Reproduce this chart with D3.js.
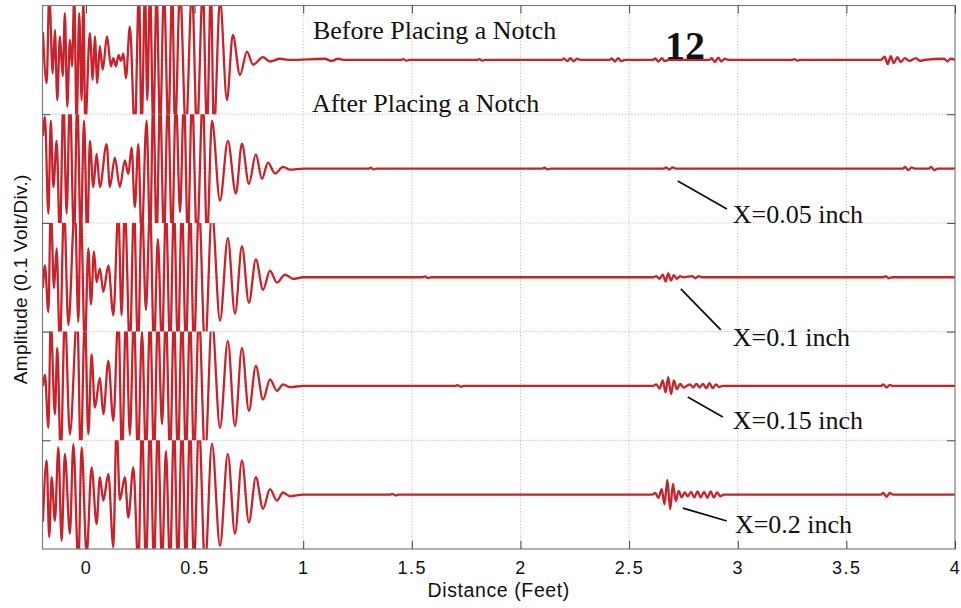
<!DOCTYPE html>
<html>
<head>
<meta charset="utf-8">
<script src="https://cdn.jsdelivr.net/npm/d3@7"></script>
<style>
  body { margin: 0; background: #fff; }
</style>
</head>
<body>
<div id="canvas"></div>
<script>
// x in feet, y in divisions around each trace's centre line
const xTicks = [0, 0.5, 1, 1.5, 2, 2.5, 3, 3.5, 4]
const yGrid = [-4, -3, -2, -1, 0, 1, 2, 3, 4]
const yTicks = [-3, -1, 1, 3]
const traceCenters = [4, 2, 0, -2, -4]

const trace1 = [
  [-0.198, 0.51], [-0.181, -0.43], [-0.169, 1.2], [-0.153, -0.25], [-0.143, 0.55], [-0.132, -0.74],
  [-0.120, 0.43], [-0.107, -0.3], [-0.097, 0.86], [-0.086, -0.86], [-0.074, 0.37], [-0.064, -0.12],
  [-0.054, 1.2], [-0.043, -1.2], [-0.031, 0.86], [-0.020, -0.74], [-0.012, 1.1], [-0.003, -1.2],
  [0.018, 0.49], [0.031, -0.37], [0.041, 0.43], [0.052, -0.43], [0.064, 0.25], [0.077, -0.18],
  [0.097, 0.43], [0.115, -0.12], [0.126, 0.03], [0.138, -0.12], [0.150, 0.09], [0.161, -0.02],
  [0.172, 0.12], [0.184, -0.34], [0.202, 0.61], [0.225, -1.3], [0.244, 1.3], [0.256, -1.3],
  [0.272, 1.3], [0.282, -0.74], [0.295, 1.3], [0.310, -1.3], [0.325, 1.3], [0.341, -1.3],
  [0.359, 1.3], [0.379, -1.3], [0.397, 1.3], [0.410, -1.3], [0.433, 1.3], [0.460, -1.3],
  [0.488, 1.3], [0.511, -1.3], [0.538, 1.3], [0.557, -1.3], [0.575, 1.3], [0.589, -1.3],
  [0.617, 1.1], [0.649, -0.74], [0.676, 0.46], [0.709, -0.28], [0.741, 0.15], [0.769, -0.09],
  [0.815, 0.05], [0.847, -0.03], [0.893, 0.02], [0.939, 0],
  [1.10, 0.02], [1.13, -0.02], [1.16, 0.02], [1.19, 0],
  [1.45, 0], [1.46, 0.015], [1.475, -0.015], [1.49, 0],
  [1.80, 0], [1.81, 0.015], [1.825, -0.015], [1.84, 0],
  [2.19, 0], [2.20, 0.025], [2.215, -0.025], [2.23, 0.03], [2.245, -0.025], [2.26, 0.02], [2.275, 0],
  [2.41, 0], [2.42, 0.025], [2.435, -0.03], [2.45, 0.03], [2.465, -0.025], [2.48, 0],
  [2.61, 0], [2.62, 0.025], [2.635, -0.03], [2.65, 0.03], [2.665, -0.025], [2.68, 0],
  [2.87, 0], [2.88, 0.03], [2.895, -0.04], [2.91, 0.04], [2.925, -0.03], [2.94, 0.02], [2.955, 0],
  [3.25, 0], [3.26, 0.015], [3.275, -0.015], [3.29, 0],
  [3.66, 0], [3.676, 0.06], [3.690, -0.08], [3.704, 0.07], [3.718, -0.06], [3.735, 0.05],
  [3.75, -0.04], [3.77, 0.03], [3.79, -0.02], [3.82, 0.03], [3.84, -0.02], [3.86, 0],
  [3.95, 0.02], [3.965, -0.03], [3.98, 0.02], [4.0, 0]
]

const trace2 = [
  [-0.198, 0.6], [-0.189, 0.95], [-0.173, -0.83], [-0.162, 0.88], [-0.150, -0.34], [-0.135, 0.51],
  [-0.120, -1.3], [-0.104, 1.3], [-0.089, -0.83], [-0.074, 1.3], [-0.055, -1.3], [-0.040, 1.3],
  [-0.024, -1.3], [-0.009, 0.88], [0.006, -1.3], [0.018, 0.51], [0.034, -0.34], [0.049, 0.27],
  [0.064, -0.34], [0.095, 0.45], [0.110, -0.34], [0.133, 0.2], [0.156, -0.34], [0.179, 0.15],
  [0.195, -0.1], [0.210, 0.39], [0.225, -0.71], [0.241, 0.45], [0.256, -1.3], [0.279, 0.88],
  [0.295, -1.3], [0.310, 1.3], [0.325, -1.3], [0.341, 1.3], [0.359, -1.3], [0.377, 1.3],
  [0.396, -1.3], [0.414, 1.3], [0.433, -0.8], [0.451, 1.3], [0.469, -1.3], [0.488, 1.3],
  [0.511, -1.3], [0.538, 1.3], [0.557, -1.3], [0.580, 0.88], [0.617, -0.59], [0.653, 0.51],
  [0.690, -0.46], [0.718, 0.46], [0.750, -0.28], [0.782, 0.26], [0.810, -0.19], [0.838, 0.11],
  [0.870, -0.09], [0.907, 0.03], [0.939, -0.02], [1.0, 0],
  [1.30, 0], [1.31, 0.015], [1.325, -0.015], [1.34, 0],
  [2.10, 0], [2.11, 0.015], [2.125, -0.015], [2.14, 0],
  [2.66, 0], [2.67, 0.02], [2.685, -0.02], [2.70, 0.02], [2.715, 0],
  [3.76, 0], [3.77, 0.03], [3.785, -0.03], [3.80, 0.02], [3.815, 0],
  [3.88, 0], [3.89, 0.03], [3.905, -0.03], [3.92, 0], [4.0, 0]
]

const trace3 = [
  [-0.198, -0.2], [-0.189, 0.22], [-0.173, -0.64], [-0.162, 1.3], [-0.147, -0.2], [-0.135, 0.53],
  [-0.120, -1.3], [-0.101, 1.3], [-0.081, -0.88], [-0.051, 1.3], [-0.035, -0.82], [-0.024, 1.3],
  [-0.005, -1.3], [0.011, 0.53], [0.023, -0.5], [0.037, 0.47], [0.049, -0.09], [0.064, 0.16],
  [0.080, -0.27], [0.103, 0.22], [0.126, -0.7], [0.149, 1.2], [0.164, -0.7], [0.179, 1.3],
  [0.202, -1.3], [0.221, 1.3], [0.239, -1.3], [0.258, 1.3], [0.276, -0.6], [0.295, 1.3],
  [0.313, -1.3], [0.331, 0.7], [0.350, -1.3], [0.368, 1.3], [0.387, -1.3], [0.405, 1.3],
  [0.423, -1.3], [0.442, 1.3], [0.460, -1.3], [0.479, 1.3], [0.497, -1.3], [0.520, 1.3],
  [0.548, -1.3], [0.580, 1.2], [0.617, -0.8], [0.653, 0.72], [0.686, -0.67], [0.718, 0.57],
  [0.750, -0.47], [0.782, 0.33], [0.815, -0.23], [0.847, 0.12], [0.879, -0.1], [0.916, 0.05],
  [0.953, -0.03], [1.0, 0],
  [1.55, 0], [1.56, 0.015], [1.575, -0.015], [1.59, 0],
  [2.61, 0], [2.625, 0.02], [2.64, -0.03], [2.655, 0.05], [2.668, -0.08], [2.68, 0.07],
  [2.693, -0.06], [2.706, 0.04], [2.72, -0.03], [2.735, 0.02], [2.75, 0],
  [2.79, 0.02], [2.805, -0.02], [2.82, 0.02], [2.835, 0],
  [3.67, 0], [3.68, 0.02], [3.695, -0.02], [3.71, 0], [4.0, 0]
]

const trace4 = [
  [-0.198, 0.0], [-0.189, 0.21], [-0.173, -0.77], [-0.162, 1.2], [-0.143, -0.52], [-0.132, 0.7],
  [-0.116, -1.3], [-0.097, 1.3], [-0.074, -0.89], [-0.040, 1.3], [-0.024, -1.3], [-0.005, 1.3],
  [0.011, -0.89], [0.026, 0.58], [0.041, -0.4], [0.064, 0.15], [0.080, -0.52], [0.103, 0.46],
  [0.126, -0.64], [0.149, 1.3], [0.166, -1.3], [0.184, 1.3], [0.202, -0.9], [0.221, 1.3],
  [0.239, -1.3], [0.258, 1.0], [0.276, -1.3], [0.295, 1.3], [0.313, -1.3], [0.331, 1.3],
  [0.350, -0.7], [0.368, 1.3], [0.387, -1.3], [0.405, 1.3], [0.423, -1.3], [0.442, 1.3],
  [0.460, -1.3], [0.479, 1.3], [0.497, -1.3], [0.520, 1.3], [0.548, -1.3], [0.580, 1.2],
  [0.617, -0.77], [0.653, 0.83], [0.686, -0.74], [0.718, 0.7], [0.750, -0.46], [0.782, 0.37],
  [0.815, -0.25], [0.847, 0.12], [0.879, -0.09], [0.907, 0.03], [0.939, -0.02], [1.0, 0],
  [1.70, 0], [1.71, 0.015], [1.725, -0.015], [1.74, 0],
  [2.61, 0], [2.625, 0.03], [2.64, -0.05], [2.655, 0.1], [2.668, -0.12], [2.68, 0.16],
  [2.693, -0.15], [2.706, 0.1], [2.72, -0.06], [2.735, 0.04], [2.75, -0.03], [2.765, 0],
  [2.78, 0.03], [2.795, -0.03], [2.81, 0.04], [2.825, -0.03], [2.84, 0.04], [2.855, -0.04],
  [2.87, 0.05], [2.885, -0.04], [2.90, 0.03], [2.915, -0.02], [2.93, 0],
  [3.66, 0], [3.67, 0.03], [3.685, -0.03], [3.70, 0.02], [3.715, 0], [4.0, 0]
]

const trace5 = [
  [-0.198, -0.5], [-0.181, 0.63], [-0.169, -0.78], [-0.158, 0.32], [-0.143, -0.48], [-0.127, 0.87],
  [-0.112, -0.85], [-0.097, 0.75], [-0.074, -0.72], [-0.058, 0.93], [-0.035, -1.3], [-0.020, 0.87],
  [0.003, -1.1], [0.026, 0.5], [0.049, -0.54], [0.064, 0.32], [0.080, -0.11], [0.103, 0.38],
  [0.126, -0.97], [0.141, 1.3], [0.156, -0.1], [0.179, 0.32], [0.195, -0.42], [0.218, 0.5],
  [0.241, -1.3], [0.258, 1.3], [0.276, -1.3], [0.295, 1.3], [0.313, -1.3], [0.331, 1.3],
  [0.350, -1.3], [0.368, 0.8], [0.387, -1.3], [0.405, 1.3], [0.423, -1.3], [0.442, 1.3],
  [0.460, -1.3], [0.479, 1.3], [0.497, -1.3], [0.520, 1.3], [0.548, -1.3], [0.580, 0.94],
  [0.617, -0.94], [0.653, 0.75], [0.686, -0.72], [0.718, 0.63], [0.750, -0.51], [0.782, 0.32],
  [0.815, -0.26], [0.847, 0.1], [0.879, -0.11], [0.907, 0.04], [0.939, -0.03], [1.0, 0],
  [1.40, 0], [1.41, 0.015], [1.425, -0.015], [1.44, 0],
  [2.605, 0], [2.62, 0.03], [2.635, -0.06], [2.65, 0.1], [2.663, -0.18], [2.676, 0.27],
  [2.689, -0.27], [2.702, 0.2], [2.715, -0.12], [2.728, 0.07], [2.742, -0.05], [2.756, 0.04],
  [2.77, -0.03], [2.785, 0.05], [2.80, -0.05], [2.815, 0.06], [2.83, -0.05], [2.845, 0.05],
  [2.86, -0.06], [2.875, 0.06], [2.89, -0.05], [2.905, 0.04], [2.92, -0.03], [2.935, 0],
  [3.66, 0], [3.67, 0.03], [3.685, -0.04], [3.70, 0.03], [3.715, 0], [4.0, 0]
]

const traces = [trace1, trace2, trace3, trace4, trace5]

const notes = [
  { text: 'Before Placing a Notch', x: 1.045, y: 4.384, size: 26, weight: 'normal' },
  { text: 'After Placing a Notch', x: 1.040, y: 3.040, size: 26, weight: 'normal' },
  { text: '12', x: 2.665, y: 4.016, size: 40, weight: 'bold' },
  { text: 'X=0.05 inch', x: 2.977, y: 0.998, size: 26, weight: 'normal' },
  { text: 'X=0.1 inch', x: 2.977, y: -1.265, size: 26, weight: 'normal' },
  { text: 'X=0.15 inch', x: 2.977, y: -2.792, size: 26, weight: 'normal' },
  { text: 'X=0.2 inch', x: 2.987, y: -4.706, size: 26, weight: 'normal' }
]

const leaders = [
  [[2.724, 1.771], [2.950, 1.256]],
  [[2.738, -0.216], [2.922, -0.970]],
  [[2.770, -2.203], [2.931, -2.571]],
  [[2.747, -4.246], [2.950, -4.485]]
]

const W = 961
const H = 608
const margin = { top: 5.5, right: 6, bottom: 59, left: 42.5 }
const width = W - margin.left - margin.right
const height = H - margin.top - margin.bottom

const svg = d3.select('#canvas')
  .append('svg')
    .attr('width', W)
    .attr('height', H)
  .append('g')
    .attr('transform', `translate(${margin.left},${margin.top})`)

const x = d3.scaleLinear().domain([-0.2, 4]).range([0, width])
const y = d3.scaleLinear().domain([-5, 5]).range([height, 0])

// dotted grid
svg.append('g')
  .selectAll('line')
  .data(xTicks.filter(d => d > -0.2 && d < 4))
  .join('line')
    .attr('x1', d => x(d)).attr('x2', d => x(d))
    .attr('y1', 0).attr('y2', height)
    .attr('stroke', '#b8b8b8')
    .attr('stroke-dasharray', '1.2,2')

svg.append('g')
  .selectAll('line')
  .data(yGrid)
  .join('line')
    .attr('x1', 0).attr('x2', width)
    .attr('y1', d => y(d)).attr('y2', d => y(d))
    .attr('stroke', '#b8b8b8')
    .attr('stroke-dasharray', '1.2,2')

// traces, each clipped to its own band
const line = d3.line()
  .x(d => x(d[0]))
  .y(d => d[2])
  .curve(d3.curveMonotoneX)

const defs = svg.append('defs')
traceCenters.forEach((c, i) => {
  defs.append('clipPath')
    .attr('id', 'band' + i)
    .append('rect')
      .attr('x', 0)
      .attr('y', y(c + 1))
      .attr('width', width)
      .attr('height', y(c - 1) - y(c + 1))
})

svg.append('g')
  .selectAll('path')
  .data(traces)
  .join('path')
    .attr('clip-path', (d, i) => `url(#band${i})`)
    .attr('fill', 'none')
    .attr('stroke', '#c8222b')
    .attr('stroke-width', 2.3)
    .attr('stroke-linejoin', 'round')
    .attr('d', (d, i) => line(d.map(p => [p[0], p[1], y(traceCenters[i] + p[1])])))

// frame + ticks
svg.append('rect')
  .attr('width', width)
  .attr('height', height)
  .attr('fill', 'none')
  .attr('stroke', '#7d7d7d')
  .attr('stroke-width', 1.2)

const tickLen = 8

const xAxis = svg.append('g')
  .attr('transform', `translate(0,${height})`)
  .call(d3.axisBottom(x).tickValues(xTicks).tickSize(-tickLen).tickPadding(12.5).tickFormat(d3.format('')))
xAxis.select('.domain').remove()
xAxis.selectAll('line').attr('stroke', '#444')
xAxis.selectAll('text')
  .attr('font-family', "'Liberation Sans', Arial, Helvetica, sans-serif")
  .attr('font-size', 18)
  .attr('letter-spacing', 1.5)
  .attr('fill', '#111')

const xTop = svg.append('g')
  .call(d3.axisTop(x).tickValues(xTicks).tickSize(-tickLen).tickFormat(''))
xTop.select('.domain').remove()
xTop.selectAll('line').attr('stroke', '#444')

const yLeft = svg.append('g')
  .call(d3.axisLeft(y).tickValues(yTicks).tickSize(-tickLen).tickFormat(''))
yLeft.select('.domain').remove()
yLeft.selectAll('line').attr('stroke', '#444')

const yRight = svg.append('g')
  .attr('transform', `translate(${width},0)`)
  .call(d3.axisRight(y).tickValues(yTicks).tickSize(-tickLen).tickFormat(''))
yRight.select('.domain').remove()
yRight.selectAll('line').attr('stroke', '#444')

// axis titles
svg.append('text')
  .attr('x', width / 2)
  .attr('y', height + 48.3)
  .attr('text-anchor', 'middle')
  .attr('font-family', "'Liberation Sans', Arial, Helvetica, sans-serif")
  .attr('font-size', 19.5)
  .attr('letter-spacing', 0.6)
  .attr('fill', '#111')
  .text('Distance (Feet)')

svg.append('text')
  .attr('transform', `translate(${27 - margin.left},${height / 2 + 2}) rotate(-90)`)
  .attr('text-anchor', 'middle')
  .attr('font-family', "'Liberation Sans', Arial, Helvetica, sans-serif")
  .attr('font-size', 19)
  .attr('letter-spacing', 0.3)
  .attr('fill', '#111')
  .text('Amplitude (0.1 Volt/Div.)')

// annotations
svg.append('g')
  .selectAll('line')
  .data(leaders)
  .join('line')
    .attr('x1', d => x(d[0][0])).attr('y1', d => y(d[0][1]))
    .attr('x2', d => x(d[1][0])).attr('y2', d => y(d[1][1]))
    .attr('stroke', '#111')
    .attr('stroke-width', 1.8)

svg.append('g')
  .selectAll('text')
  .data(notes)
  .join('text')
    .attr('x', d => x(d.x))
    .attr('y', d => y(d.y))
    .attr('font-family', "'Liberation Serif', 'Times New Roman', Times, serif")
    .attr('font-size', d => d.size)
    .attr('font-weight', d => d.weight)
    .attr('fill', '#111')
    .text(d => d.text)
</script>
</body>
</html>
